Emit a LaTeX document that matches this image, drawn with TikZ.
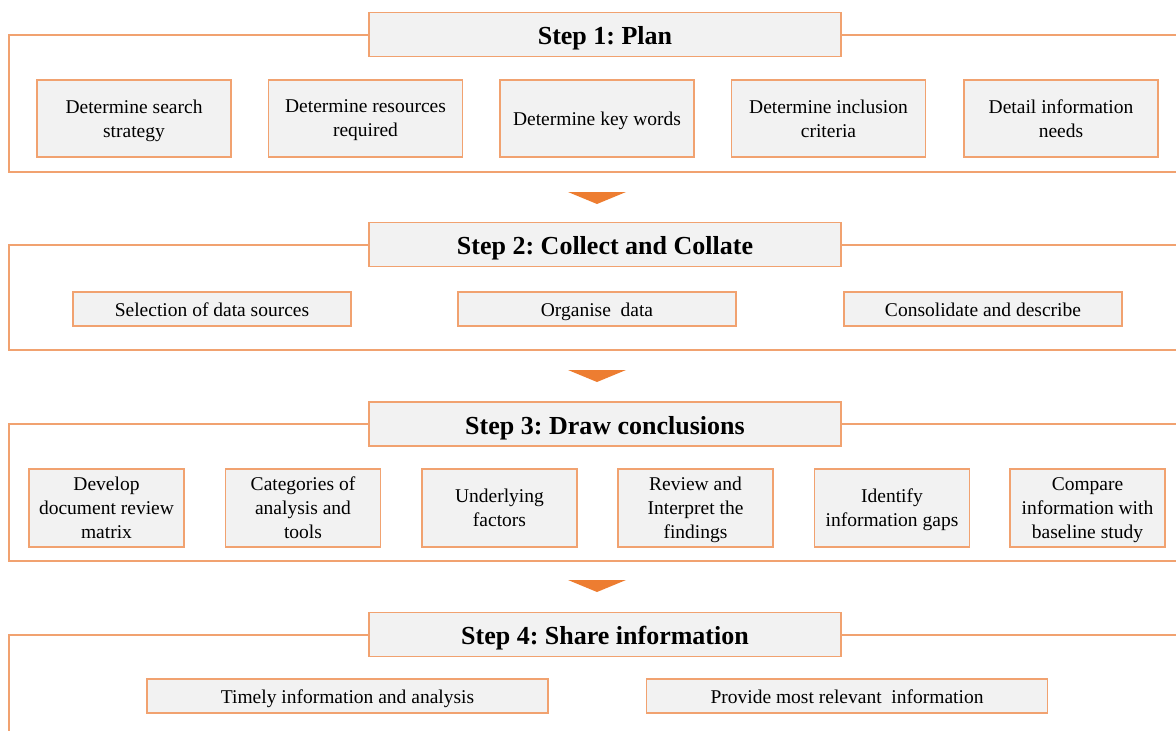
\documentclass[tikz,border=0pt]{standalone}
\usepackage{fontspec}
\setmainfont{Liberation Serif}
\usepackage{tikz}
\frenchspacing

\definecolor{lineorange}{RGB}{241,162,112}
\definecolor{arroworange}{RGB}{237,125,49}
\definecolor{boxgray}{RGB}{242,242,242}

\begin{document}
\begin{tikzpicture}[x=1pt, y=-1pt,
	frame/.style={draw=lineorange, line width=1.3pt},
	title/.style={draw=lineorange, line width=1.3pt, fill=boxgray, inner sep=0pt,
		minimum width=472pt, minimum height=44pt, text height=20pt, text depth=0pt,
		font=\fontsize{26}{30}\selectfont\bfseries},
	task/.style={draw=lineorange, line width=1.3pt, fill=boxgray, inner sep=0pt,
		align=center, font=\fontsize{19.5}{24}\selectfont},
	tall/.style={task, minimum height=77pt, text depth=0pt},
	flat/.style={task, minimum height=34pt, text height=14pt, text depth=0pt},
	down/.style={fill=arroworange}]
	\useasboundingbox (0,0) rectangle (1176,731);

	% open frames behind the step titles
	\draw [frame] (1176,35) -- (9,35) -- (9,172) -- (1176,172);
	\draw [frame] (1176,245) -- (9,245) -- (9,350) -- (1176,350);
	\draw [frame] (1176,424) -- (9,424) -- (9,561) -- (1176,561);
	\draw [frame] (1176,635) -- (9,635) -- (9,731);

	% step 1
	\node [title] (T1) at (605,34.5) {Step 1: Plan};
	\node [tall, minimum width=194pt] (p1) at (134,118.5) {Determine search\\strategy};
	\node [tall, minimum width=194pt] (p2) at (365.5,118.5) {Determine resources\\required};
	\node [tall, minimum width=194pt] (p3) at (597,118.5) {Determine key words};
	\node [tall, minimum width=194pt] (p4) at (828.5,118.5) {Determine inclusion\\criteria};
	\node [tall, minimum width=194pt] (p5) at (1061,118.5) {Detail information\\needs};

	\fill [down] (568,192) -- (626,192) -- (597,204) -- cycle;

	% step 2
	\node [title] (T2) at (605,244.5) {Step 2: Collect and Collate};
	\node [flat, minimum width=278pt] (c1) at (212,309) {Selection of data sources};
	\node [flat, minimum width=278pt] (c2) at (597,309) {Organise\ \ data};
	\node [flat, minimum width=278pt] (c3) at (983,309) {Consolidate and describe};

	\fill [down] (568,370) -- (626,370) -- (597,382) -- cycle;

	% step 3
	\node [title] (T3) at (605,424) {Step 3: Draw conclusions};
	\node [tall, minimum width=155pt, minimum height=78pt] (d1) at (106.5,508) {Develop\\document review\\matrix};
	\node [tall, minimum width=155pt, minimum height=78pt] (d2) at (303,508) {Categories of\\analysis and\\tools};
	\node [tall, minimum width=155pt, minimum height=78pt] (d3) at (499.5,508) {Underlying\\factors};
	\node [tall, minimum width=155pt, minimum height=78pt] (d4) at (695.5,508) {Review and\\Interpret the\\findings};
	\node [tall, minimum width=155pt, minimum height=78pt] (d5) at (892,508) {Identify\\information gaps};
	\node [tall, minimum width=155pt, minimum height=78pt] (d6) at (1087.5,508) {Compare\\information with\\baseline study};

	\fill [down] (568,580) -- (626,580) -- (597,592) -- cycle;

	% step 4
	\node [title] (T4) at (605,634.5) {Step 4: Share information};
	\node [flat, minimum width=401pt] (s1) at (347.5,696) {Timely information and analysis};
	\node [flat, minimum width=401pt] (s2) at (847,696) {Provide most relevant\ \ information};
\end{tikzpicture}
\end{document}
